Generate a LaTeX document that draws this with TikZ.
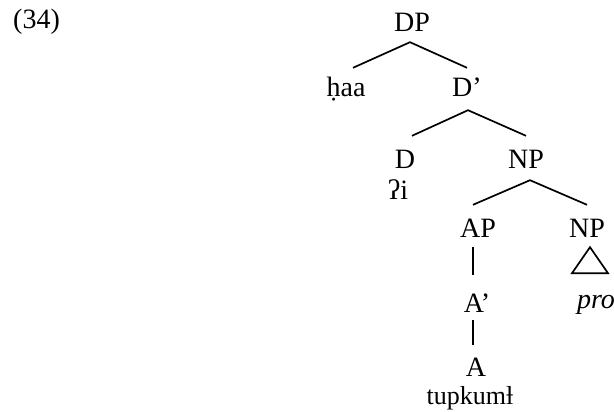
\documentclass[tikz,border=0pt]{standalone}
\usepackage{fontspec}
\setmainfont{Liberation Serif}
\usetikzlibrary{calc}
\begin{document}
\begin{tikzpicture}[x=1pt,y=-1pt,
  lab/.style={anchor=base,inner xsep=0pt,inner ysep=4pt,text height=28pt,text depth=2pt,font=\fontsize{28}{32}\selectfont},
  leaf/.style={anchor=base,inner xsep=0pt,inner ysep=0pt,text height=17pt,text depth=6pt,font=\fontsize{28}{32}\selectfont},
  edge/.style={line width=1.7pt}]
\useasboundingbox (0,0) rectangle (614,412);
\node[leaf,anchor=base west] (ex) at (13,29) {(34)};
\node[lab] (DP) at (412,32) {DP};
\node[lab] (haa) at (346,97) {ḥaa};
\node[lab] (Dbar) at (467,97) {D’};
\node[lab] (D) at (405,168) {D};
\node[leaf] (qi) at (398,200) {ʔi};
\node[lab] (NP) at (526,168) {NP};
\node[lab] (AP) at (478,237) {AP};
\node[lab] (NPr) at (587,237) {NP};
\node[lab] (Abar) at (477,312) {A’};
\node[lab] (A) at (476,376) {A};
\node[leaf,font=\fontsize{26}{30}\selectfont] (tup) at (470,404) {tupkumƚ};
\node[leaf] (pro) at (596,308) {\itshape pro};
\draw[edge] ($(haa.north)+(7,3)$) -- ($(DP.south)+(-2,4)$) -- ($(Dbar.north)+(0,3)$);
\draw[edge] ($(D.north)+(7,0)$) -- ($(Dbar.south)+(1,7)$) -- (NP.north);
\draw[edge] ($(AP.north)+(-5,0)$) -- ($(NP.south)+(4,6)$) -- (NPr.north);
\draw[edge] ($(AP.south)+(-5,4)$) -- ($(Abar.north)+(-4,-5)$);
\draw[edge] ($(Abar.south)+(-4,2)$) -- ($(A.north)+(-3,1)$);
\draw[edge,line join=miter] ($(NPr.south)+(3,4)$) -- ++(-18,26) -- ++(36,0) -- cycle;
\end{tikzpicture}
\end{document}
